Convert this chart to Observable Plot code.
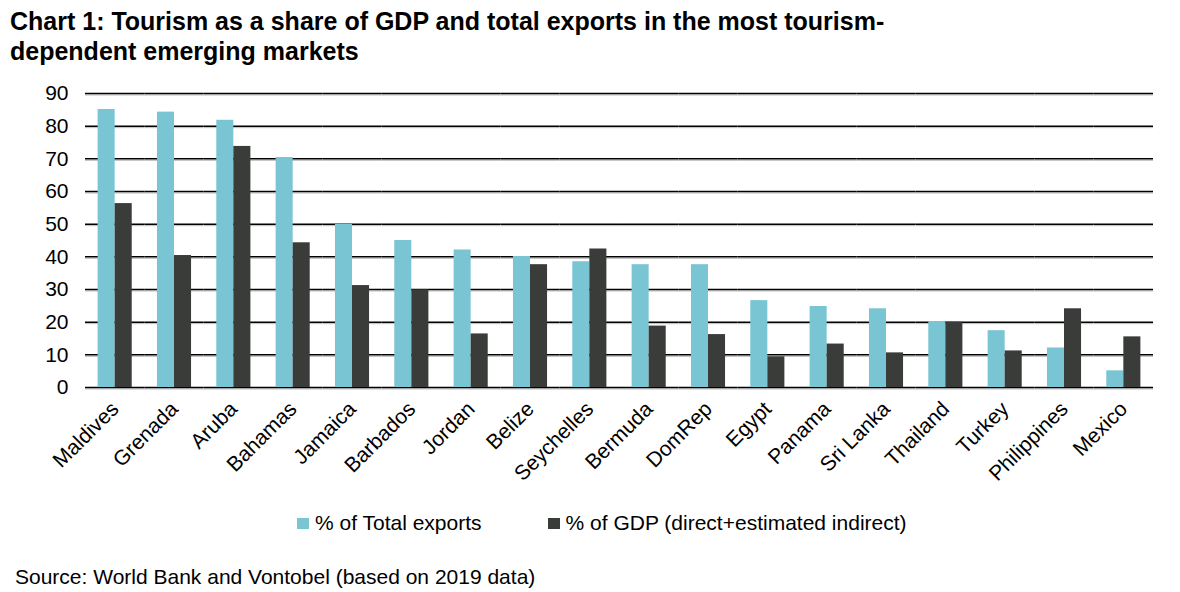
<!DOCTYPE html>
<html><head><meta charset="utf-8">
<script src="https://cdn.jsdelivr.net/npm/d3@7"></script>
<script src="https://cdn.jsdelivr.net/npm/@observablehq/plot@0.6"></script>
<style>
body{margin:0;background:#fff;font-family:"Liberation Sans",Arial,sans-serif;width:1180px;height:592px;position:relative;overflow:hidden;color:#000}
#title{position:absolute;left:10px;top:6px;font-weight:bold;font-size:25px;line-height:30px;white-space:nowrap}
#chart{position:absolute;left:0;top:65px}
#legend{position:absolute;left:297px;top:511px;font-size:21px;line-height:24px;display:flex;align-items:center;white-space:nowrap}
#legend .sw{display:inline-block;width:12px;height:11px;margin-right:6px}
#legend .item{display:flex;align-items:center}
#source{position:absolute;left:15px;top:565px;font-size:21px;line-height:24px;white-space:nowrap}
</style></head>
<body>
<div id="title">Chart 1: Tourism as a share of GDP and total exports in the most tourism-<br>dependent emerging markets</div>
<div id="chart"></div>
<div id="legend"></div>
<div id="source">Source: World Bank and Vontobel (based on 2019 data)</div>
<script>
const countries = ["Maldives","Grenada","Aruba","Bahamas","Jamaica","Barbados","Jordan","Belize","Seychelles","Bermuda","DomRep","Egypt","Panama","Sri Lanka","Thailand","Turkey","Philippines","Mexico"];
const exportsShare = [85.1,84.3,81.8,70.4,49.9,45.0,42.1,40.1,38.5,37.6,37.6,26.6,24.8,24.1,20.2,17.4,12.1,5.1];
const gdpShare = [56.3,40.4,73.8,44.3,31.2,29.9,16.4,37.6,42.4,18.8,16.2,9.4,13.3,10.6,20.0,11.2,24.1,15.5];
const seriesNames = ["% of Total exports","% of GDP (direct+estimated indirect)"];
const seriesColors = ["#7AC5D4","#3A3C3A"];
const yTicks = [0,10,20,30,40,50,60,70,80,90];

const data = [];
countries.forEach((c,i)=>{
  data.push({country:c, series:seriesNames[0], value:exportsShare[i]});
  data.push({country:c, series:seriesNames[1], value:gdpShare[i]});
});

const chart = Plot.plot({
  width:1180, height:440,
  marginLeft:85, marginRight:27, marginTop:28, marginBottom:118,
  style:{fontSize:"21px", fontFamily:"'Liberation Sans', Arial, sans-serif", color:"#000", background:"#fff"},
  fx:{domain:countries, label:null, round:false, paddingInner:0, paddingOuter:0, tickRotate:-45, tickSize:0, tickPadding:18},
  x:{domain:seriesNames, axis:null, round:false, paddingInner:0, paddingOuter:0.74},
  y:{domain:[0,90], ticks:yTicks, tickSize:0, tickPadding:17, label:null},
  color:{domain:seriesNames, range:seriesColors},
  marks:[
    Plot.ruleY(yTicks, {stroke:"#bbb", strokeWidth:1, dy:1.5}),
    Plot.ruleY(yTicks, {stroke:"#000", strokeWidth:1.5}),
    Plot.barY(data, {fx:"country", x:"series", y:"value", fill:"series"})
  ]
});
document.getElementById("chart").appendChild(chart);

const lg = document.getElementById("legend");
seriesNames.forEach((s,i)=>{
  const it = document.createElement("span");
  it.className="item";
  if(i>0) it.style.marginLeft="66px";
  const sw = document.createElement("span");
  sw.className="sw"; sw.style.background=seriesColors[i];
  it.appendChild(sw);
  it.appendChild(document.createTextNode(s));
  lg.appendChild(it);
});
</script>
</body></html>
